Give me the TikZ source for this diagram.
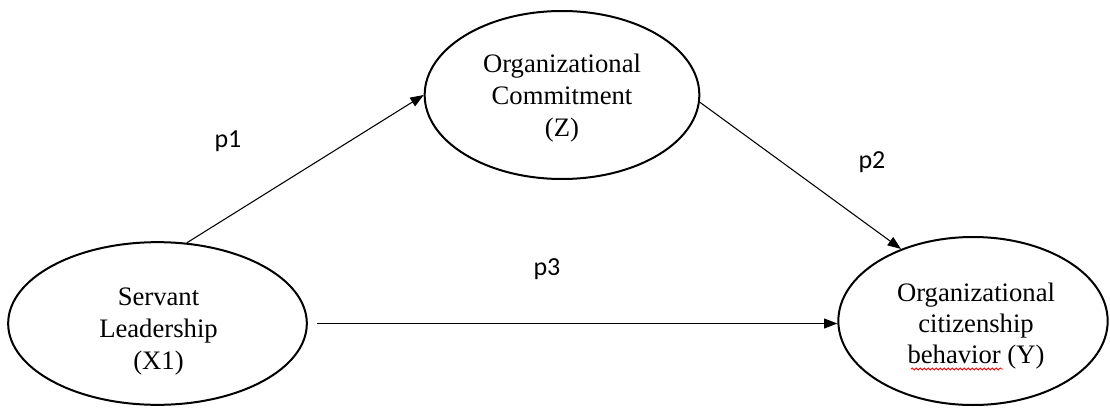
\documentclass[tikz,border=0pt]{standalone}
\usepackage{fontspec}
\setmainfont{Liberation Serif}
\newfontfamily\labfont{Carlito}
\usetikzlibrary{shapes.geometric,arrows.meta,calc,decorations.pathmorphing}
\begin{document}
\begin{tikzpicture}[x=0.75pt,y=-0.75pt,
  construct/.style={ellipse,draw,line width=1.5pt,inner sep=0pt},
  ctext/.style={align=center,inner sep=0pt,font=\fontsize{20}{24}\selectfont},
  path/.style={line width=0.8pt,-{Triangle[length=10pt,width=7.5pt]}},
  plabel/.style={font=\labfont\fontsize{19.5}{22}\selectfont,anchor=base}]
\useasboundingbox (0,0) rectangle (1110,410);
\node[construct,minimum width=224pt,minimum height=122pt] (L) at (157.5,323.5) {};
\node[construct,minimum width=206pt,minimum height=126pt] (T) at (562,95) {};
\node[construct,minimum width=202pt,minimum height=126pt] (R) at (973,321) {};
\node[ctext] (Lt) at ($(L.center)+(1,8)$) {Servant\\Leadership\\(X1)};
\node[ctext] (Tt) at ($(T.center)+(0,3)$) {Organizational\\Commitment\\(Z)};
\node[ctext,font=\fontsize{20}{23.5}\selectfont] (Rt) at ($(R.center)+(3,5)$) {Organizational\\citizenship\\behavior (Y)};
\draw[path] (L.70) -- (T.west);
\draw[path] (T.-3) -- (R.135);
\draw[path] ([xshift=7pt]L.east) -- (L.east -| R.west);
\node[plabel] (p1) at (228,147) {p1};
\node[plabel] (p2) at (872,168) {p2};
\node[plabel] (p3) at (547,275) {p3};
\coordinate (w1) at ($(R.center)+(-62,48)$);
\coordinate (w2) at ($(R.center)+(30,48)$);
\draw[red,line width=0.6pt,decorate,decoration={snake,segment length=3pt,amplitude=0.8pt}] (w1) -- (w2);
\end{tikzpicture}
\end{document}
